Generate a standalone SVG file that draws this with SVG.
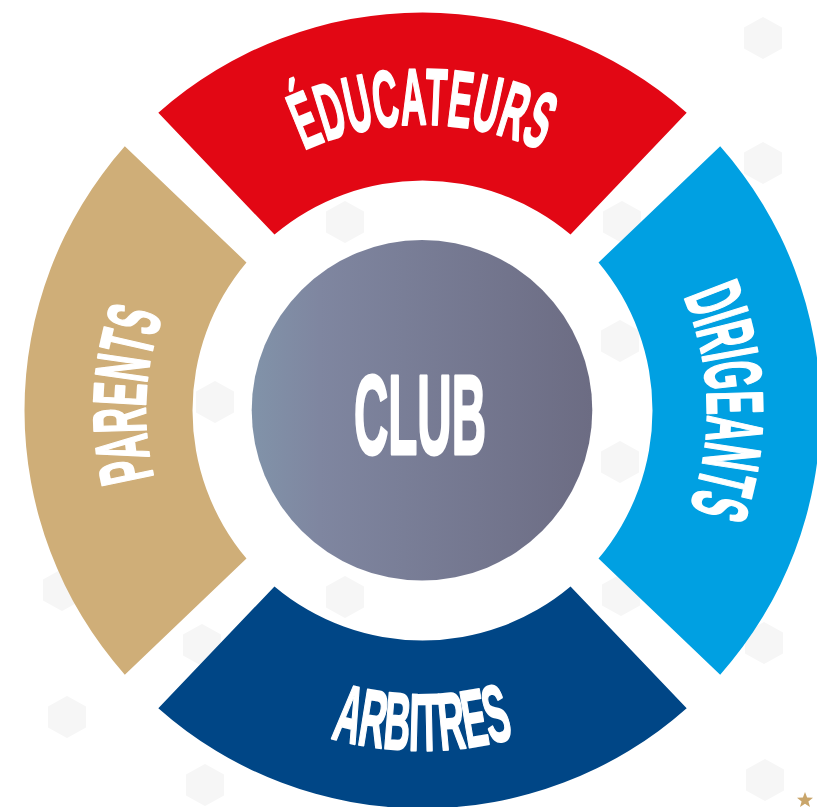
<svg xmlns="http://www.w3.org/2000/svg" xmlns:xlink="http://www.w3.org/1999/xlink" width="817" height="807" viewBox="0 0 817 807">
<defs>
<style>
.hex{fill:#f6f6f6}
.lbl{font-family:"Liberation Sans",Arial,sans-serif;font-weight:700;fill:#ffffff;stroke:#ffffff;stroke-width:2.2;stroke-linejoin:round}
</style>
<linearGradient id="clubGrad" x1="0" y1="0" x2="1" y2="0">
<stop offset="0" stop-color="#8193a9"/>
<stop offset="0.2" stop-color="#7f86a0"/>
<stop offset="1" stop-color="#6c6c83"/>
</linearGradient>
<path id="seg" d="M158.32,112.82 A398,398 0 0 1 686.68,112.82 L570.53,234.47 A230,230 0 0 0 274.47,234.47 Z"/>
<polygon id="hx" points="0,-21 19,-10.5 19,10.5 0,21 -19,10.5 -19,-10.5"/>
<path id="pTop" d="M142.81,359.19 A284,284 0 0 1 702.19,359.19"/>
<path id="pLeft" d="M360.19,680.40 A277,277 0 0 1 388.74,135.57"/>
<path id="pRight" d="M468.56,129.24 A285,285 0 0 1 475.42,690.54"/>
<path id="pBot" d="M87.66,469.54 A340,340 0 0 0 757.34,469.54"/>
</defs>
<rect width="817" height="807" fill="#ffffff"/>
<g id="background">
<use xlink:href="#hx" class="hex" x="763" y="38"/>
<use xlink:href="#hx" class="hex" x="763" y="163"/>
<use xlink:href="#hx" class="hex" x="622" y="222"/>
<use xlink:href="#hx" class="hex" x="345" y="222"/>
<use xlink:href="#hx" class="hex" x="215" y="402"/>
<use xlink:href="#hx" class="hex" x="620" y="341"/>
<use xlink:href="#hx" class="hex" x="620" y="462"/>
<use xlink:href="#hx" class="hex" x="621" y="595"/>
<use xlink:href="#hx" class="hex" x="345" y="597"/>
<use xlink:href="#hx" class="hex" x="764" y="643"/>
<use xlink:href="#hx" class="hex" x="62" y="590"/>
<use xlink:href="#hx" class="hex" x="202" y="645"/>
<use xlink:href="#hx" class="hex" x="67" y="717"/>
<use xlink:href="#hx" class="hex" x="205" y="785"/>
<use xlink:href="#hx" class="hex" x="765" y="780"/>
<polygon points="805,792 807.1,797.6 813,797.8 808.4,801.4 810,807 805,803.7 800,807 801.6,801.4 797,797.8 802.9,797.6" fill="#c9a56a"/>
</g>
<g id="educateurs">
<use xlink:href="#seg" fill="#e20714"/>
<text class="lbl" font-size="80"><textPath xlink:href="#pTop" startOffset="50%" text-anchor="middle" textLength="244" lengthAdjust="spacingAndGlyphs">ÉDUCATEURS</textPath></text>
</g>
<g id="dirigeants">
<use xlink:href="#seg" fill="#00a0e2" transform="rotate(90 422.5 410.5)"/>
<text class="lbl" font-size="80"><textPath xlink:href="#pRight" startOffset="49.4%" text-anchor="middle" textLength="218" lengthAdjust="spacingAndGlyphs">DIRIGEANTS</textPath></text>
</g>
<g id="arbitres">
<use xlink:href="#seg" fill="#004686" transform="rotate(180 422.5 410.5)"/>
<text class="lbl" font-size="81"><textPath xlink:href="#pBot" startOffset="50%" text-anchor="middle" textLength="186" lengthAdjust="spacingAndGlyphs">ARBITRES</textPath></text>
</g>
<g id="parents">
<use xlink:href="#seg" fill="#cfae78" transform="rotate(270 422.5 410.5)"/>
<text class="lbl" font-size="75"><textPath xlink:href="#pLeft" startOffset="50%" text-anchor="middle" textLength="164" lengthAdjust="spacingAndGlyphs">PARENTS</textPath></text>
</g>
<g id="club">
<circle cx="422" cy="410.3" r="170.3" fill="url(#clubGrad)"/>
<text class="lbl" x="420" y="454" text-anchor="middle" font-size="113" textLength="132" lengthAdjust="spacingAndGlyphs" style="stroke-width:3">CLUB</text>
</g>
</svg>
